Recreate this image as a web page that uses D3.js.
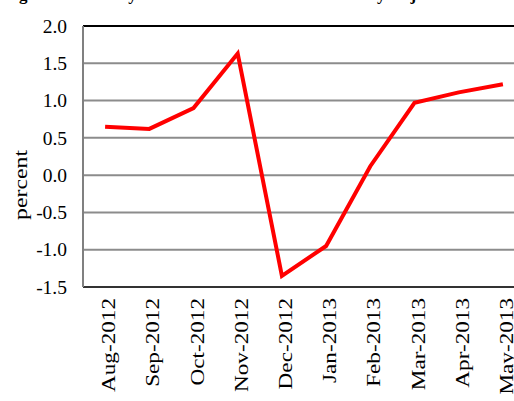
<!DOCTYPE html>
<html>
<head>
<meta charset="utf-8">
<script src="https://cdn.jsdelivr.net/npm/d3@7"></script>
<style>
  body { margin: 0; background: #fff; }
  svg { display: block; font-family: "Liberation Serif", "Times New Roman", serif; }
</style>
</head>
<body>
<div class="chart"></div>
<script>
const months = ["Aug-2012", "Sep-2012", "Oct-2012", "Nov-2012", "Dec-2012",
  "Jan-2013", "Feb-2013", "Mar-2013", "Apr-2013", "May-2013"];
const growth = [0.65, 0.62, 0.90, 1.63, -1.35, -0.95, 0.12, 0.97, 1.11, 1.22];
const yTicks = [-1.5, -1.0, -0.5, 0.0, 0.5, 1.0, 1.5, 2.0];

const W = 514, H = 401;
const MARGIN = { top: 26, right: -11, bottom: 114, left: 83 };
const WIDTH = W - MARGIN.left - MARGIN.right,
  HEIGHT = H - MARGIN.top - MARGIN.bottom;

const xScale = d3.scalePoint().domain(months).range([0, WIDTH]).padding(0.5);
const yScale = d3.scaleLinear().domain([-1.5, 2.0]).range([HEIGHT, 0]);

const svg = d3.select(".chart").append("svg")
  .attr("width", W).attr("height", H);

// title, mostly cropped off in the source
svg.append("text")
  .attr("x", 4).attr("y", 0)
  .style("font-size", "17px").style("font-weight", "bold")
  .text("Figure 1: Monthly Growth in Retail Sales Seasonally Adjusted");

const g = svg.append("g")
  .attr("transform", `translate(${MARGIN.left},${MARGIN.top})`);

// gridlines
g.selectAll(".grid").data(yTicks.slice(1, -1)).enter().append("line")
  .attr("x1", 0).attr("x2", WIDTH)
  .attr("y1", (d) => yScale(d)).attr("y2", (d) => yScale(d))
  .style("stroke", "#8c8c8c").style("stroke-width", 2);

// frame
g.append("line").attr("x1", 0).attr("x2", WIDTH).attr("y1", 0).attr("y2", 0)
  .style("stroke", "#000").style("stroke-width", 2);
g.append("line").attr("x1", 0).attr("x2", WIDTH).attr("y1", HEIGHT).attr("y2", HEIGHT)
  .style("stroke", "#333").style("stroke-width", 2);
g.append("line").attr("x1", 0).attr("x2", 0).attr("y1", 0).attr("y2", HEIGHT)
  .style("stroke", "#808080").style("stroke-width", 2);

// y axis labels (plain hyphen for negatives, like the source)
const fmt = d3.format(".1f");
const yAxis = d3.axisLeft(yScale).tickValues(yTicks)
  .tickFormat((d) => fmt(d).replace("\u2212", "-")).tickSize(0).tickPadding(16);
g.append("g").call(yAxis)
  .call((s) => s.select(".domain").remove())
  .selectAll("text")
  .style("font-family", "Liberation Serif, serif")
  .style("font-size", "19.5px").style("fill", "#000");

// x axis labels, stretched along their length as in the source
const xAxis = d3.axisBottom(xScale).tickSize(0).tickPadding(0);
g.append("g").attr("transform", `translate(0,${HEIGHT})`).call(xAxis)
  .call((s) => s.select(".domain").remove())
  .selectAll("text")
  .attr("transform", "translate(3,11) rotate(-90) scale(1.22,1)")
  .attr("x", 0).attr("y", 0).attr("dy", "0.35em")
  .style("text-anchor", "end")
  .style("font-family", "Liberation Serif, serif")
  .style("font-size", "19px").style("fill", "#000");

// axis title
svg.append("text")
  .attr("transform", "translate(27,185) rotate(-90) scale(1.22,1)")
  .style("text-anchor", "middle")
  .style("font-size", "19.5px")
  .text("percent");

// line
const line = d3.line().x((d, i) => xScale(months[i])).y((d) => yScale(d));
g.append("path").datum(growth)
  .attr("d", line)
  .style("fill", "none").style("stroke", "#ff0000")
  .style("stroke-width", 4).style("stroke-linejoin", "miter");
</script>
</body>
</html>
